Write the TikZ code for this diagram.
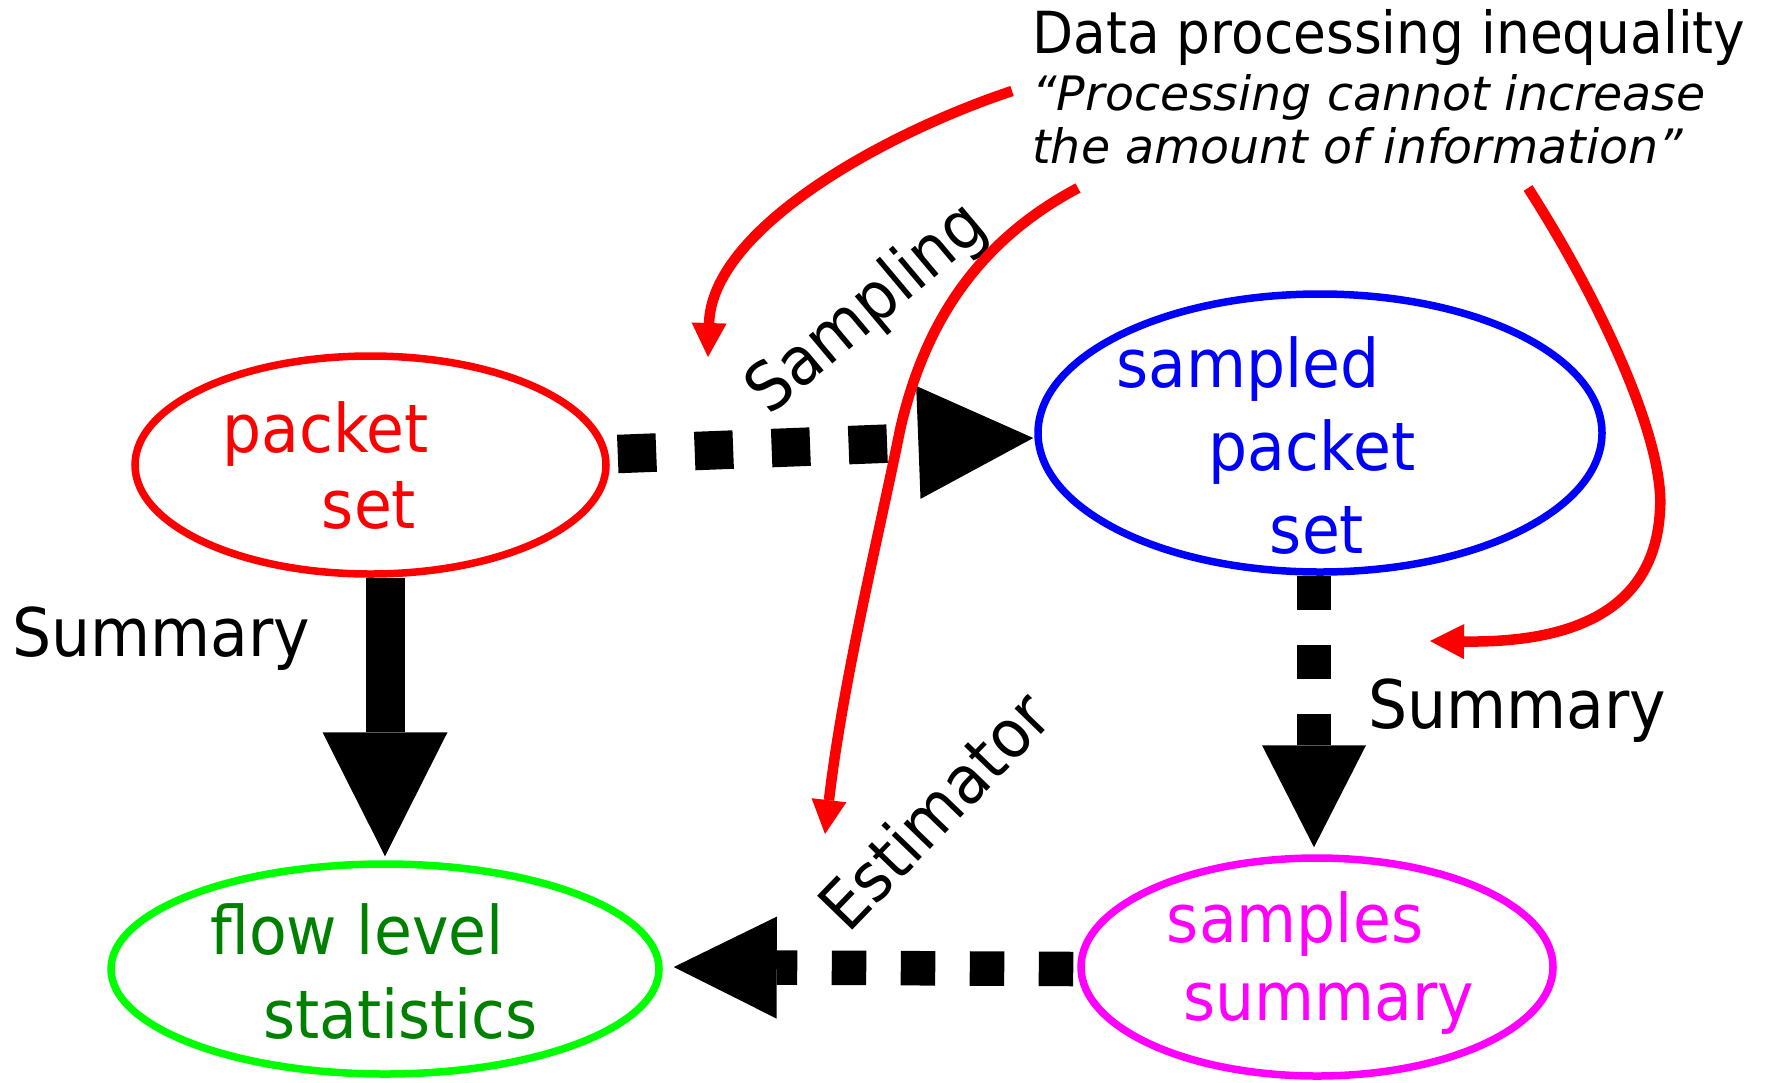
\documentclass[tikz,border=0pt]{standalone}
\usepackage{fontspec}
\setmainfont{DejaVu Sans}[FakeStretch=0.92]
\newfontfamily\quotefont{DejaVu Sans}
\usetikzlibrary{arrows.meta,shapes.geometric}
\definecolor{dgreen}{RGB}{0,128,0}
\definecolor{lgreen}{RGB}{0,255,0}
\definecolor{mag}{RGB}{255,0,255}
\begin{document}
\begin{tikzpicture}[x=0.5pt,y=-0.5pt,
  ell/.style={ellipse, line width=3.75pt, inner sep=0pt},
  txt/.style={font=\fontsize{33.5}{38}\selectfont, inner sep=0pt, anchor=base},
  lbl/.style={font=\fontsize{33.5}{38}\selectfont, inner sep=0pt},
  dotline/.style={line width=#1, dash pattern=on #1 off #1},
  redarr/.style={draw=red, line width=5.25pt, line join=round,
    -{Triangle[length=17pt,width=17.5pt,line width=0pt]}}
]
\useasboundingbox (0,0) rectangle (1765,1082);

% ellipses
\node[ell, draw=red, minimum width=235.5pt, minimum height=109pt] (ps) at (370.5,465) {};
\node[ell, draw=blue, minimum width=282pt, minimum height=139pt] (sp) at (1320,433) {};
\node[ell, draw=lgreen, minimum width=274pt, minimum height=105pt] (fl) at (385,969) {};
\node[ell, draw=mag, minimum width=236pt, minimum height=109pt] (ss) at (1317,967) {};

% ellipse texts
\node[txt, text=red] (ps1) at (325.5,452) {packet};
\node[txt, text=red] (ps2) at (369,528) {set};
\node[txt, text=blue] (sp1) at (1248,387) {sampled};
\node[txt, text=blue] (sp2) at (1312,470) {packet};
\node[txt, text=blue] (sp3) at (1317,553) {set};
\node[txt, text=dgreen] (fl1) at (357,954) {flow level};
\node[txt, text=dgreen] (fl2) at (400.5,1038) {statistics};
\node[txt, text=mag] (ss1) at (1295,942) {samples};
\node[txt, text=mag] (ss2) at (1328.5,1020) {summary};

% labels
\node[txt] (sumL) at (161.5,656) {Summary};
\node[txt] (sumR) at (1517,728) {Summary};
\node[lbl, rotate=40] (samp) at (868,310) {Sampling};
\node[lbl, rotate=46] (est) at (934,810) {Estimator};

% title
\node[inner sep=0pt, anchor=base west, font=\fontsize{29}{33}\selectfont] (title) at (1032,53) {Data processing inequality};
\node[inner sep=0pt, anchor=base west, font=\quotefont\itshape\fontsize{23.7}{28}\selectfont] (q1) at (1032,110) {“Processing cannot increase};
\node[inner sep=0pt, anchor=base west, font=\quotefont\itshape\fontsize{23.7}{28}\selectfont] (q2) at (1032,163) {the amount of information”};

% black connectors
\draw[dotline=19.25pt, -{Triangle[length=57.5pt,width=56.5pt,line width=0pt]}]
  ([shift={(8,-11)}]ps.east) -- ([shift={(-1,5)}]sp.west);
\draw[line width=19.5pt, -{Triangle[length=62pt,width=62.5pt,line width=0pt]}]
  (ps.south -| fl.north) -- ([shift={(0,-4)}]fl.north);
\draw[dotline=17.25pt, -{Triangle[length=51pt,width=52pt,line width=0pt]}]
  ([shift={(-6,0)}]sp.south) -- ([shift={(-3,-7)}]ss.north);
\draw[dotline=17.25pt, -{Triangle[length=51.5pt,width=51pt,line width=0pt]}]
  ([shift={(-4,2)}]ss.west) -- ([shift={(11,-2)}]fl.east);

% red connectors
\coordinate (ra0) at (1012,91);
\coordinate (ra1) at (708,357);
\coordinate (rb0) at (1078,188);
\coordinate (rbm) at (900,430);
\coordinate (rb1) at (825,834);
\coordinate (rc0) at (1528,188);
\coordinate (rcm) at (1660,510);
\coordinate (rc1) at (1430,641);
\draw[redarr] (ra0) .. controls (880,135) and (712,230) .. (ra1);
\draw[redarr] (rb0) .. controls (980,240) and (925,320) .. (rbm)
  .. controls (880,530) and (843,680) .. (rb1);
\draw[redarr] (rc0) .. controls (1600,300) and (1665,440) .. (rcm)
  .. controls (1655,612) and (1570,643) .. (rc1);
\end{tikzpicture}
\end{document}
